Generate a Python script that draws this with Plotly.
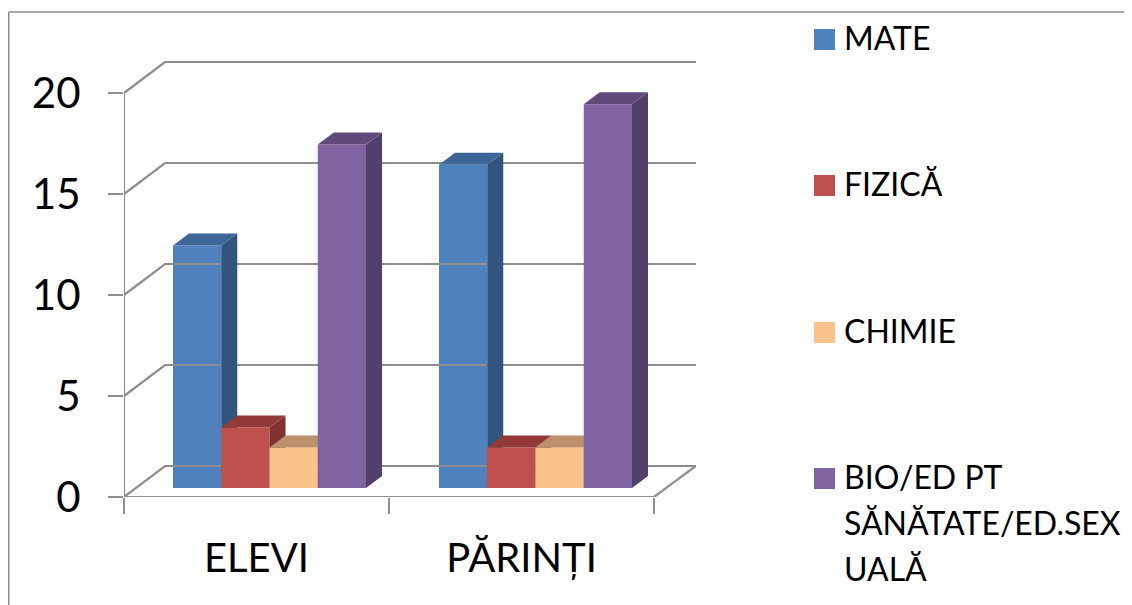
import plotly.graph_objects as go

categories = ["ELEVI", "PĂRINȚI"]
series_names = ["MATE", "FIZICĂ", "CHIMIE", "BIO/ED PT SĂNĂTATE/ED.SEX UALĂ"]
mate = [12, 16]
fizica = [3, 2]
chimie = [2, 2]
bio = [17, 19]
y_ticks = [0, 5, 10, 15, 20]
legend_lines = [["MATE"], ["FIZICĂ"], ["CHIMIE"], ["BIO/ED PT", "SĂNĂTATE/ED.SEX", "UALĂ"]]

all_values = [mate, fizica, chimie, bio]
front = ["#4F81BD", "#C0504D", "#FCC28C", "#8064A2"]
side = ["#31557F", "#7F3230", "#BA906B", "#533F6B"]
top = ["#3C6696", "#913A38", "#BD916B", "#604A7B"]
GRID = "#8E8E8E"
FONT = "Lato"

PAGE = 8  # the page's own margin around the figure
W, H = 1132 - PAGE, 605 - PAGE
ML, MR, MT, MB = 124 - PAGE, 436, 61 - PAGE, 108
XU, YU = 265.0, 20.2
xr = (W - ML - MR) / XU
yr = (H - MT - MB) / YU
wall_dx, wall_dy = 41 / XU, 31 / YU
bar_dx, bar_dy = 16 / XU, 12 / YU
base = 9 / YU
bar_w = 48.25 / XU
start = 49 / XU
group_step = 266 / XU

fig = go.Figure()

# walls and floor
gx, gy = [], []
for v in y_ticks:
    gx += [0, wall_dx, xr, None]
    gy += [v, v + wall_dy, v + wall_dy, None]
gx += [0, 0, None, 0, 530 / XU, xr]
gy += [0, 20, None, 0, 0, wall_dy]
fig.add_trace(go.Scatter(x=gx, y=gy, mode="lines", line=dict(color=GRID, width=2.2),
                         showlegend=False, hoverinfo="skip", cliponaxis=False))

for i, vals in enumerate(all_values):
    suffix = "" if i == 0 else str(i + 1)
    xs = [g * group_step + start + (i + 0.5) * bar_w for g in range(len(vals))]
    fig.add_trace(go.Bar(x=xs, y=vals, base=base, width=bar_w, name=series_names[i],
                         marker=dict(color=front[i], line=dict(width=0)), showlegend=False,
                         xaxis="x" + suffix, yaxis="y" + suffix, hoverinfo="name+y"))
    for cx, v in zip(xs, vals):
        l, r, t = cx - bar_w / 2, cx + bar_w / 2, v + base
        fig.add_trace(go.Scatter(x=[r, r + bar_dx, r + bar_dx, r, r],
                                 y=[base, base + bar_dy, t + bar_dy, t, base],
                                 mode="lines", fill="toself", fillcolor=side[i], line=dict(width=0),
                                 showlegend=False, hoverinfo="skip", cliponaxis=False,
                                 xaxis="x" + suffix, yaxis="y" + suffix))
        fig.add_trace(go.Scatter(x=[l, l + bar_dx, r + bar_dx, r, l],
                                 y=[t, t + bar_dy, t + bar_dy, t, t],
                                 mode="lines", fill="toself", fillcolor=top[i], line=dict(width=0),
                                 showlegend=False, hoverinfo="skip", cliponaxis=False,
                                 xaxis="x" + suffix, yaxis="y" + suffix))

layout = dict(
    width=W, height=H, margin=dict(l=ML, r=MR, t=MT, b=MB), autosize=False,
    plot_bgcolor="white", paper_bgcolor="white", barmode="overlay", showlegend=False,
    font=dict(family=FONT, color="black"),
    xaxis=dict(range=[0, xr], tickmode="array", tickvals=[0.5, 1.5], ticktext=categories,
               ticks="", showgrid=False, zeroline=False, showline=False,
               tickfont=dict(size=40, family=FONT, color="black"), ticklabelstandoff=34,
               minor=dict(tickmode="array", tickvals=[0, 1, 2], ticks="outside", ticklen=16,
                          tickwidth=2.2, tickcolor=GRID, showgrid=False)),
    yaxis=dict(range=[0, yr], tickmode="array", tickvals=y_ticks, ticks="outside", ticklen=15,
               tickwidth=2.2, tickcolor=GRID, showgrid=False, zeroline=False, showline=False,
               tickfont=dict(size=42, family=FONT, color="black"), ticklabelstandoff=19),
)
for i in range(2, 5):
    layout[f"xaxis{i}"] = dict(range=[0, xr], overlaying="x", visible=False)
    layout[f"yaxis{i}"] = dict(range=[0, yr], overlaying="y", visible=False)

fx = lambda p: (p - PAGE - ML) / (W - ML - MR)
fy = lambda p: (H - MB - (p - PAGE)) / (H - MT - MB)

shapes, annotations = [], []
swatch_y = [39.5, 185.5, 332.5, 478.5]
line_gap = 46
for i, lines in enumerate(legend_lines):
    c = swatch_y[i]
    shapes.append(dict(type="rect", xref="paper", yref="paper", layer="above",
                       x0=fx(814), x1=fx(835), y0=fy(c - 10.5), y1=fy(c + 10.5),
                       fillcolor=front[i], line=dict(width=0)))
    for j, txt in enumerate(lines):
        annotations.append(dict(text=txt, xref="paper", yref="paper", showarrow=False,
                                x=fx(843), y=fy(c - 2 + j * line_gap), xanchor="left", yanchor="middle",
                                align="left", borderpad=0,
                                font=dict(size=32, family=FONT, color="black")))
# outer frame
shapes.append(dict(type="line", xref="paper", yref="paper", x0=fx(8.75), x1=fx(1132), y0=fy(12), y1=fy(12),
                   line=dict(color=GRID, width=1.5)))
shapes.append(dict(type="line", xref="paper", yref="paper", x0=fx(8.75), x1=fx(8.75), y0=fy(12), y1=fy(605),
                   line=dict(color=GRID, width=1.5)))
layout["shapes"] = shapes
layout["annotations"] = annotations
fig.update_layout(**layout)
fig.write_html("out.html")
